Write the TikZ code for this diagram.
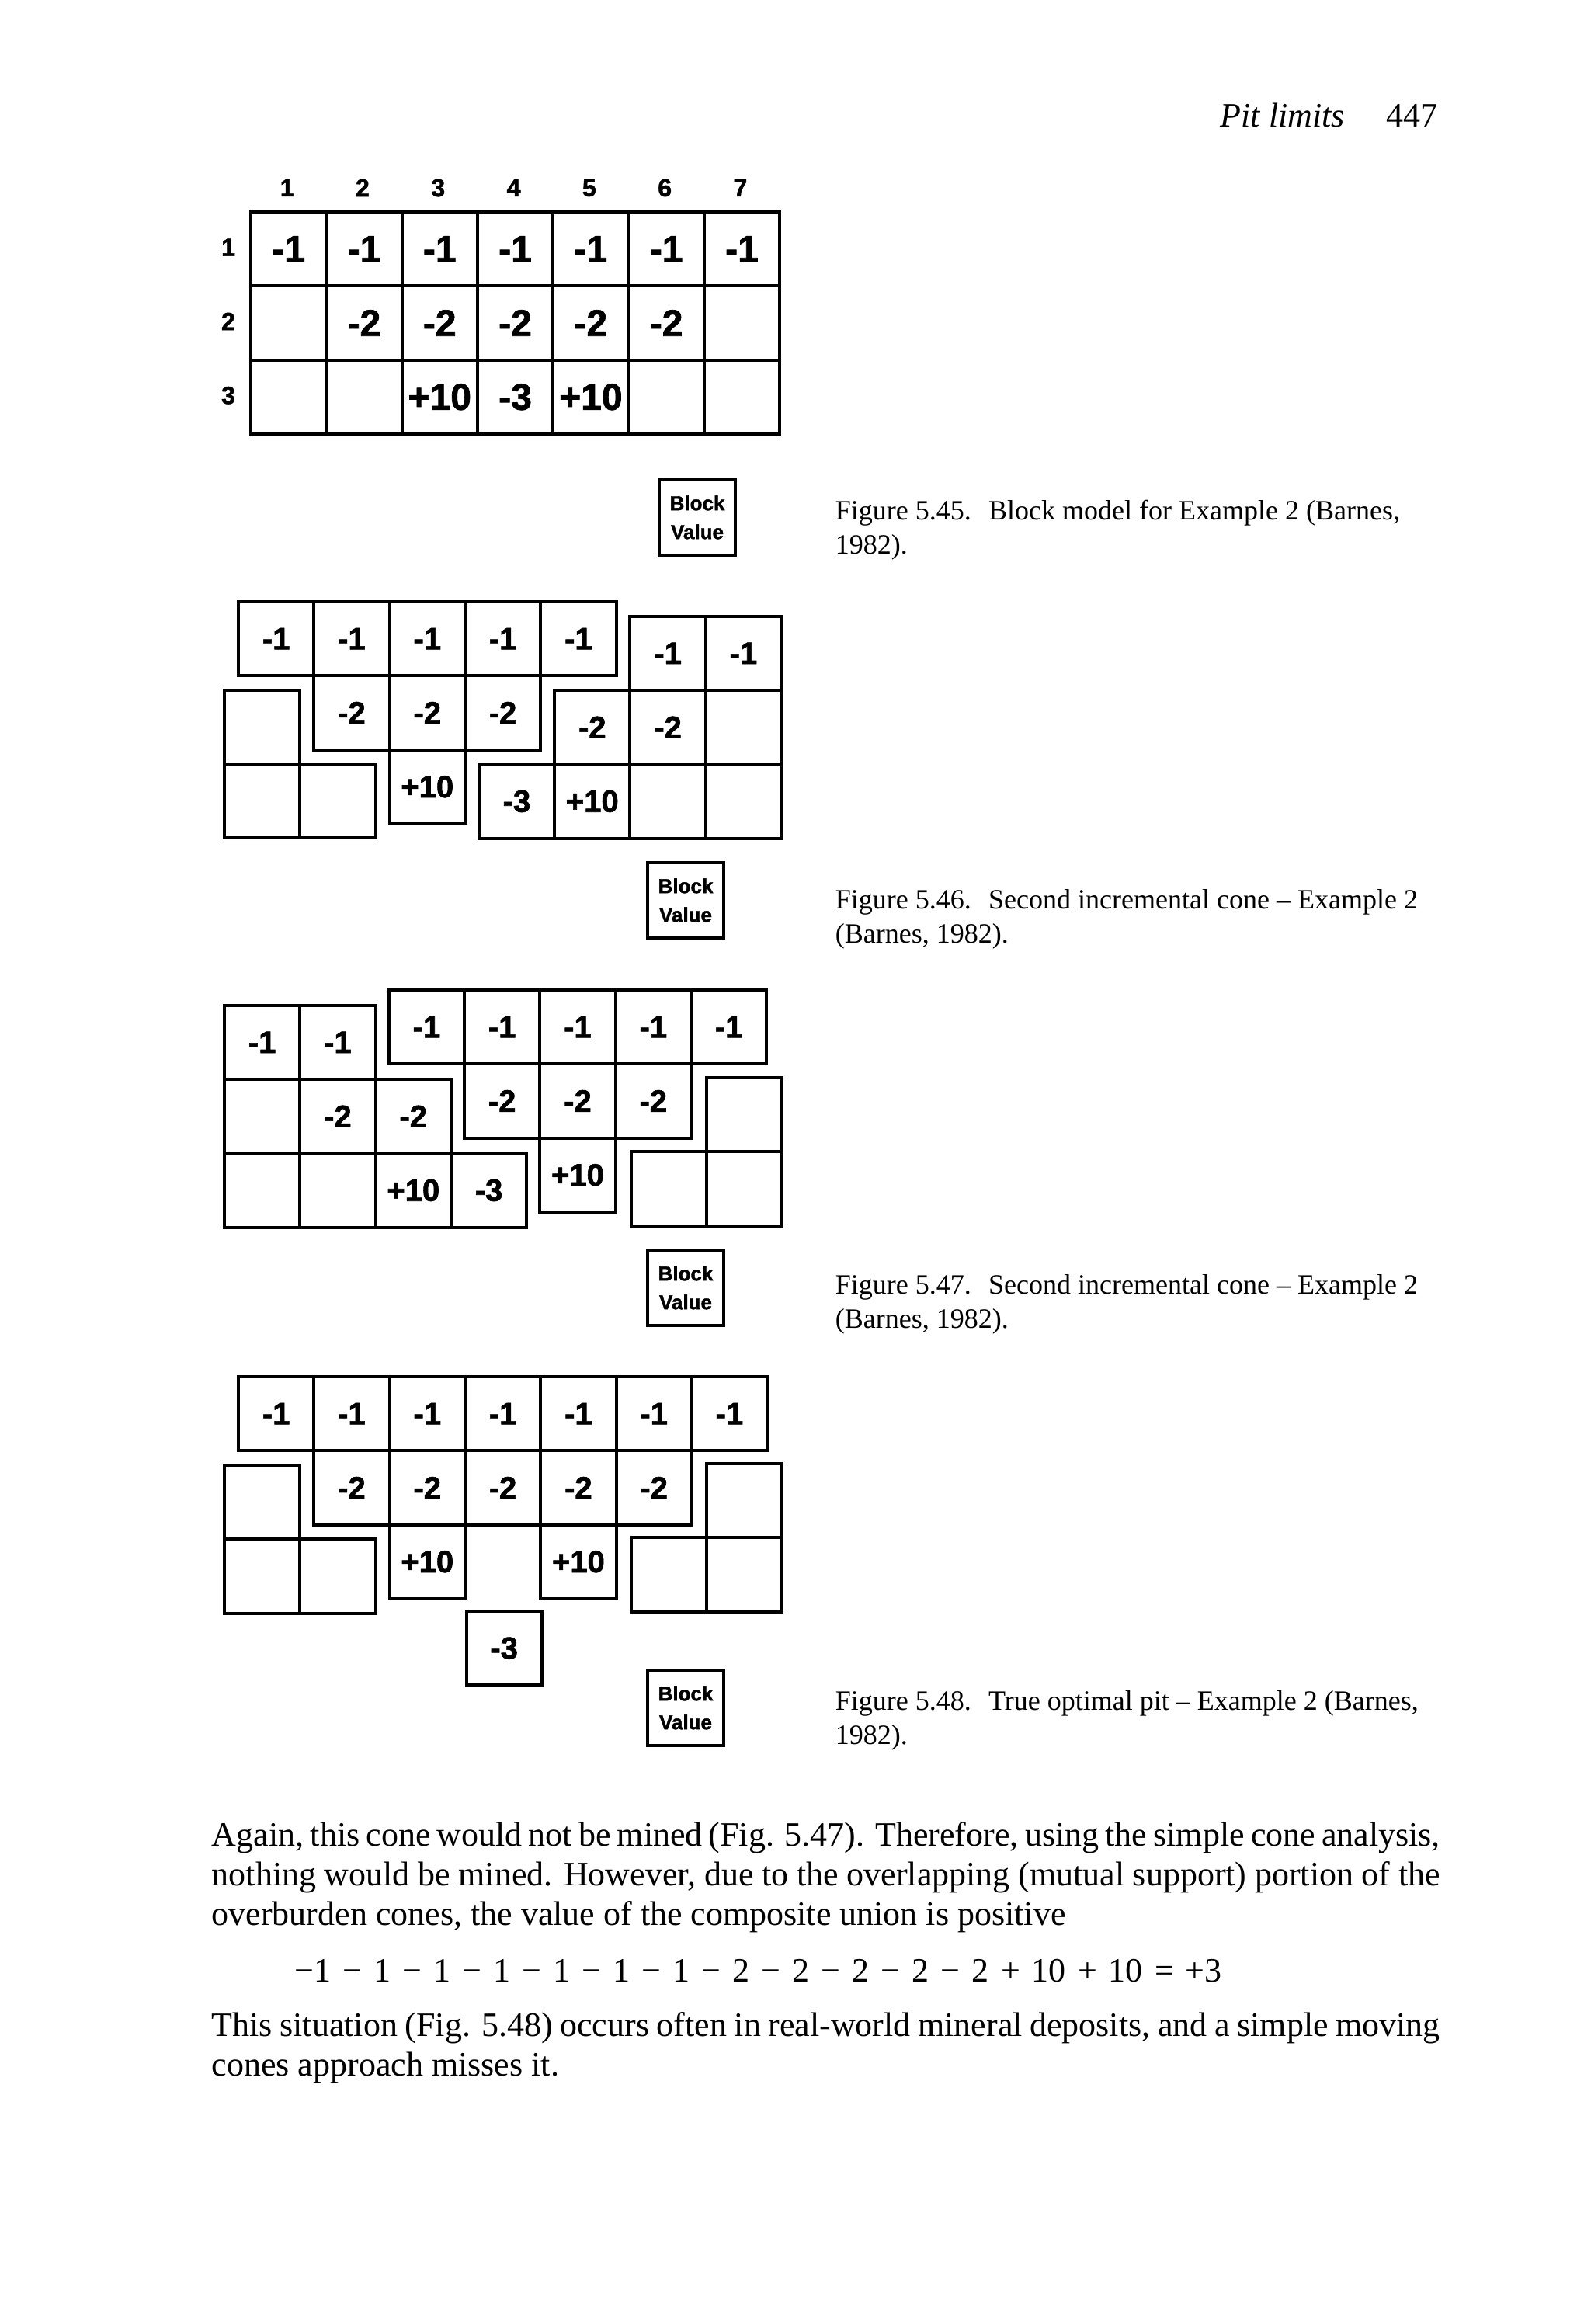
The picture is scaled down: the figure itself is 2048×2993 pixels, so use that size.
\documentclass[tikz,border=0pt]{standalone}
\usepackage{fontspec}
\setmainfont{Liberation Serif}
\setsansfont{Liberation Sans}
\newfontfamily\blockfont{Liberation Sans}[BoldFeatures={FakeBold=1.5}]

\tikzset{
  cell/.style={draw, line width=1pt, rectangle, inner sep=0pt, anchor=north west,
    minimum width=24.33pt, minimum height=23.83pt,
    font=\blockfont\bfseries\fontsize{10}{10}\selectfont},
  bigcell/.style={cell, font=\blockfont\bfseries\fontsize{12}{12}\selectfont},
  keybox/.style={draw, line width=1pt, rectangle, inner sep=0pt, anchor=north west,
    align=center, minimum width=24.5pt, minimum height=24.2pt,
    font=\blockfont\bfseries\fontsize{6.5}{9.25}\selectfont},
  axislbl/.style={inner sep=0pt, font=\blockfont\bfseries\fontsize{8}{8}\selectfont},
  body/.style={anchor=base west, inner sep=0pt, font=\fontsize{11}{13}\selectfont},
  capt/.style={anchor=base west, inner sep=0pt, font=\fontsize{9}{11}\selectfont},
}

% one row of blocks: [style] name, left x, top y, values
\newcommand{\BlockRow}[5][cell]{%
  \foreach \v [count=\i] in {#5}
    \node[#1] (#2-\i) at ({#3+97.3*(\i-1)},#4) {\v};
}
\newcommand{\FigGap}{\hspace{5.6pt}}

\begin{document}
\begin{tikzpicture}[x=0.25pt, y=-0.25pt]
  \fill[white] (0,0) rectangle (2048,2993);
  \useasboundingbox (0,0) rectangle (2048,2993);

  % running head
  \node[body] (head) at (1571,164) {\textit{Pit limits}};
  \node[body] (page) at (1785,164) {447};

  % Figure 5.45: block model
  \foreach \c in {1,...,7}
    \node[axislbl] (col\c) at ({321+97.3*(\c-0.5)},242) {\c};
  \foreach \r in {1,2,3}
    \node[axislbl] (row\r) at (294,{271+95.3*(\r-0.5)}) {\r};
  \BlockRow[bigcell]{a1}{321}{271}{-1,-1,-1,-1,-1,-1,-1}
  \BlockRow[bigcell]{a2}{321}{366.3}{{},-2,-2,-2,-2,-2,{}}
  \BlockRow[bigcell]{a3}{321}{461.6}{{},{},+10,-3,+10,{},{}}
  \node[keybox] (keyA) at (847,616) {Block\\Value};
  \node[capt] (capA1) at (1075,670) {Figure 5.45.\FigGap Block model for Example 2 (Barnes,};
  \node[capt] (capA2) at (1075,714) {1982).};

  % Figure 5.46
  \BlockRow{b1}{305}{773}{-1,-1,-1,-1,-1}
  \BlockRow{b2}{402.3}{868.3}{-2,-2,-2}
  \BlockRow{b3}{499.6}{963.6}{+10}
  \BlockRow{bl2}{287}{886.7}{{}}
  \BlockRow{bl3}{287}{982}{{},{}}
  \BlockRow{br1}{809.4}{791.7}{-1,-1}
  \BlockRow{br2}{712.1}{887}{-2,-2,{}}
  \BlockRow{br3}{614.8}{982.3}{-3,+10,{},{}}
  \node[keybox] (keyB) at (832,1109) {Block\\Value};
  \node[capt] (capB1) at (1075,1170) {Figure 5.46.\FigGap Second incremental cone – Example 2};
  \node[capt] (capB2) at (1075,1214) {(Barnes, 1982).};

  % Figure 5.47
  \BlockRow{c1}{287}{1292.7}{-1,-1}
  \BlockRow{c2}{287}{1388}{{},-2,-2}
  \BlockRow{c3}{287}{1483.3}{{},{},+10,-3}
  \BlockRow{cm1}{498.7}{1273}{-1,-1,-1,-1,-1}
  \BlockRow{cm2}{596}{1368.3}{-2,-2,-2}
  \BlockRow{cm3}{693.3}{1463.6}{+10}
  \BlockRow{cr2}{907.8}{1386}{{}}
  \BlockRow{cr3}{810.5}{1481.3}{{},{}}
  \node[keybox] (keyC) at (832,1608) {Block\\Value};
  \node[capt] (capC1) at (1075,1666) {Figure 5.47.\FigGap Second incremental cone – Example 2};
  \node[capt] (capC2) at (1075,1710) {(Barnes, 1982).};

  % Figure 5.48
  \BlockRow{d1}{305}{1771}{-1,-1,-1,-1,-1,-1,-1}
  \BlockRow{d2}{402.3}{1866.3}{-2,-2,-2,-2,-2}
  \BlockRow{d3}{499.6}{1961.6}{+10}
  \BlockRow{d4}{694.2}{1961.6}{+10}
  \BlockRow{d5}{598.5}{2073}{-3}
  \BlockRow{dl2}{287}{1885}{{}}
  \BlockRow{dl3}{287}{1980.3}{{},{}}
  \BlockRow{dr2}{907.8}{1883}{{}}
  \BlockRow{dr3}{810.5}{1978.3}{{},{}}
  \node[keybox] (keyD) at (832,2149) {Block\\Value};
  \node[capt] (capD1) at (1075,2202) {Figure 5.48.\FigGap True optimal pit – Example 2 (Barnes,};
  \node[capt] (capD2) at (1075,2246) {1982).};

  % running text
  \node[body] (txt1) at (272,2377) {\makebox[395.5pt][s]{Again, this cone would not be mined (Fig. 5.47). Therefore, using the simple cone analysis,}};
  \node[body] (txt2) at (272,2428) {\makebox[395.5pt][s]{nothing would be mined. However, due to the overlapping (mutual support) portion of the}};
  \node[body] (txt3) at (272,2479) {overburden cones, the value of the composite union is positive};
  \node[body] (sum) at (379,2552) {\makebox[298.5pt][s]{−1 − 1 − 1 − 1 − 1 − 1 − 1 − 2 − 2 − 2 − 2 − 2 + 10 + 10 = +3}};
  \node[body] (txt4) at (272,2622) {\makebox[395.5pt][s]{This situation (Fig. 5.48) occurs often in real-world mineral deposits, and a simple moving}};
  \node[body] (txt5) at (272,2673) {cones approach misses it.};
\end{tikzpicture}
\end{document}
